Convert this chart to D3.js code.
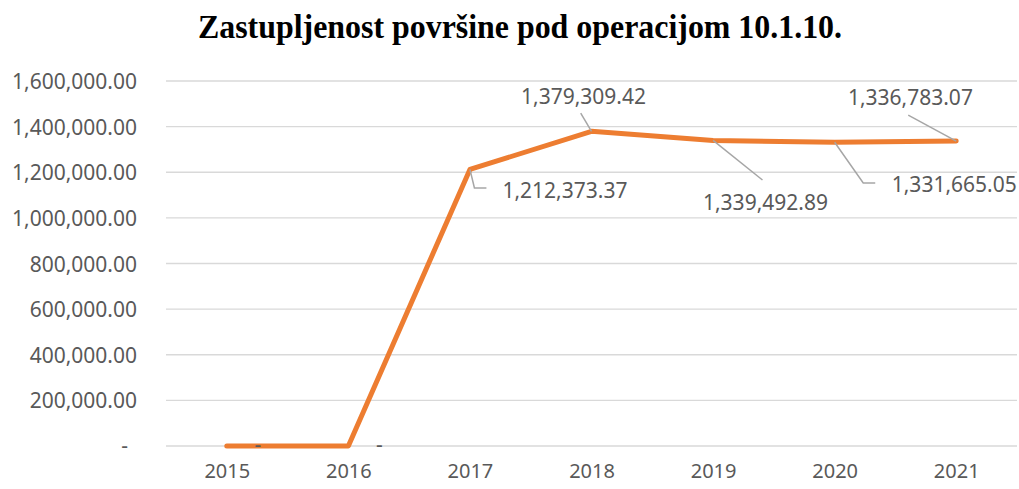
<!DOCTYPE html>
<html>
<head>
<meta charset="utf-8">
<script src="https://cdn.jsdelivr.net/npm/d3@7"></script>
<style>
  html, body { margin: 0; padding: 0; background: #ffffff; }
  svg { display: block; }
</style>
</head>
<body>
<svg id="chart" width="1019" height="489"></svg>
<script>
// Površina pod operacijom 10.1.10. po godinama
const years = ["2015", "2016", "2017", "2018", "2019", "2020", "2021"];
const area = [0, 0, 1212373.37, 1379309.42, 1339492.89, 1331665.05, 1336783.07];
const yTicks = [0, 200000, 400000, 600000, 800000, 1000000, 1200000, 1400000, 1600000];
const chartTitle = "Zastupljenost površine pod operacijom 10.1.10.";

// Placement of each value label relative to its point: label anchor (dx, baseline dy)
// and the leader-line vertices (null = no leader).
const labelLayout = [
  { dx: 31, dy: 6, leader: null },
  { dx: 31, dy: 6, leader: null },
  { dx: 95, dy: 28.6, leader: [[0, 0], [4.5, 18.6], [16.5, 18.6]] },
  { dx: -8, dy: -27.3, leader: [[0, 0], [-10.8, -18.3]] },
  { dx: 52.4, dy: 69.6, leader: [[0, 0], [49.4, 39.6]] },
  { dx: 119.6, dy: 49.3, leader: [[0, 0], [28.6, 40.8], [40.6, 40.8]] },
  { dx: -45.8, dy: -35.6, leader: [[0, 0], [-48, -26]] }
];

const svg = d3.select("#chart");
const plotLeft = 166, plotRight = 1017, plotTop = 81, plotBottom = 446;
const textColor = "#595959";
const labelFont = "'Noto Sans', 'Open Sans', sans-serif";

const x = d3.scalePoint().domain(years).range([plotLeft, plotRight]).padding(0.5);
const y = d3.scaleLinear().domain([0, 1600000]).range([plotBottom, plotTop]);

const numFmt = d3.format(",.2f");
const fmt = v => v === 0 ? "-" : numFmt(v);

// Title
svg.append("text")
  .attr("x", 520).attr("y", 37.5)
  .attr("text-anchor", "middle")
  .attr("font-family", "'Liberation Serif', 'Times New Roman', serif")
  .attr("font-weight", "bold")
  .attr("font-size", 33)
  .attr("textLength", 644)
  .attr("lengthAdjust", "spacingAndGlyphs")
  .attr("fill", "#000")
  .text(chartTitle);

// Horizontal gridlines
svg.append("g")
  .selectAll("line")
  .data(yTicks)
  .join("line")
  .attr("x1", plotLeft).attr("x2", plotRight)
  .attr("y1", d => y(d)).attr("y2", d => y(d))
  .attr("stroke", "#d9d9d9")
  .attr("stroke-width", 1.3);

// Y axis
const yAxis = d3.axisLeft(y).tickValues(yTicks).tickSize(0).tickFormat(fmt);
const gy = svg.append("g").attr("transform", "translate(137,0)").call(yAxis);
gy.select(".domain").remove();
gy.selectAll("text")
  .attr("x", d => d === 0 ? -9 : 0)
  .attr("dy", d => d === 0 ? "0.3em" : "0.36em")
  .attr("font-family", labelFont)
  .attr("font-size", 21)
  .attr("fill", textColor);

// X axis
const xAxis = d3.axisBottom(x).tickSize(0);
const gx = svg.append("g").attr("transform", `translate(0,${plotBottom})`).call(xAxis);
gx.select(".domain").remove();
gx.selectAll("text")
  .attr("y", 32)
  .attr("dy", 0)
  .attr("font-family", labelFont)
  .attr("font-size", 20)
  .attr("fill", textColor);

// Series line
const pts = years.map((yr, i) => ({ year: yr, value: area[i], px: x(yr), py: y(area[i]), lay: labelLayout[i] }));

svg.append("path")
  .datum(pts)
  .attr("fill", "none")
  .attr("stroke", "#ED7D31")
  .attr("stroke-width", 5)
  .attr("stroke-linejoin", "round")
  .attr("stroke-linecap", "round")
  .attr("d", d3.line().x(d => d.px).y(d => d.py));

// Leader lines
svg.append("g")
  .selectAll("path")
  .data(pts.filter(d => d.lay.leader))
  .join("path")
  .attr("fill", "none")
  .attr("stroke", "#a6a6a6")
  .attr("stroke-width", 1.5)
  .attr("d", d => d3.line()(d.lay.leader.map(([a, b]) => [d.px + a, d.py + b])));

// Value labels
svg.append("g")
  .selectAll("text")
  .data(pts)
  .join("text")
  .attr("x", d => d.px + d.lay.dx)
  .attr("y", d => d.py + d.lay.dy)
  .attr("text-anchor", "middle")
  .attr("font-family", labelFont)
  .attr("font-size", 21)
  .attr("fill", textColor)
  .text(d => fmt(d.value));
</script>
</body>
</html>
